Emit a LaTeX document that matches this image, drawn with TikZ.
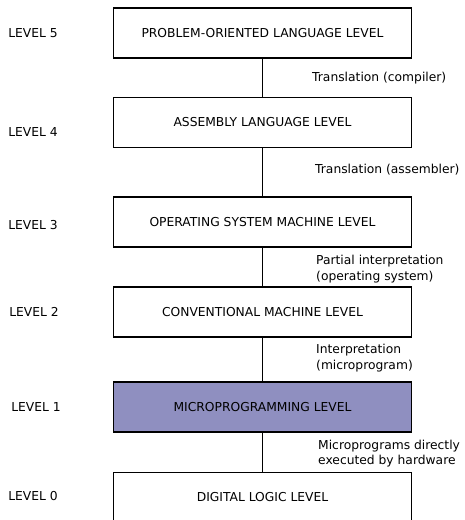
\documentclass[tikz,border=0pt]{standalone}
\usepackage{fontspec}
\setmainfont{DejaVu Sans}
\usetikzlibrary{positioning}
\definecolor{microBlue}{RGB}{143,143,192}

\begin{document}
\begin{tikzpicture}[
    x=1bp, y=-1bp,            % pixel-like coordinates, y going down
    node distance=40bp,
    font=\fontsize{12.3bp}{15.5bp}\selectfont
  ]

  %--- Styles for the level boxes and their labels ---
  \tikzset{
    levelBox/.style  ={rectangle, draw=black, fill=white, line width=1.5bp,
    minimum width=298bp, minimum height=50bp, inner sep=0pt},
    microBox/.style  ={levelBox, fill=microBlue},
    levelLabel/.style={inner sep=0pt, outer sep=0pt},
    transLabel/.style={anchor=west, align=left, inner sep=0pt},
    linkLine/.style  ={line width=1.5bp},
  }

  \useasboundingbox (0,0) rectangle (465,520);

  %------------------------------------------------------------------------------
  % 1) The level boxes (top to bottom)
  %------------------------------------------------------------------------------
  \node[levelBox] (box5) at (262.5,33) {PROBLEM-ORIENTED LANGUAGE LEVEL};
  \node[levelBox] (box4) [below=38bp of box5]   {ASSEMBLY LANGUAGE LEVEL};
  \node[levelBox] (box3) [below=48bp of box4]   {OPERATING SYSTEM MACHINE LEVEL};
  \node[levelBox] (box2) [below=38.5bp of box3] {CONVENTIONAL MACHINE LEVEL};
  \node[microBox] (box1) [below=43.5bp of box2] {MICROPROGRAMMING LEVEL};
  \node[levelBox] (box0) [below=39bp of box1]   {DIGITAL LOGIC LEVEL};

  %------------------------------------------------------------------------------
  % 2) Level numbers on the left
  %------------------------------------------------------------------------------
  \node[levelLabel] (lev5) [left=55bp of box5] {LEVEL 5};
  \node[levelLabel] (lev4) [left=55bp of box4, yshift=-10bp] {LEVEL 4};
  \node[levelLabel] (lev3) [left=55bp of box3, yshift=-3bp] {LEVEL 3};
  \node[levelLabel] (lev2) [left=54bp of box2] {LEVEL 2};
  \node[levelLabel] (lev1) [left=52bp of box1] {LEVEL 1};
  \node[levelLabel] (lev0) [left=55bp of box0, yshift=1bp] {LEVEL 0};

  %------------------------------------------------------------------------------
  % 3) How each level is carried out by the one below
  %------------------------------------------------------------------------------
  \node[transLabel] (trans5) at (312,78)    {Translation (compiler)};
  \node[transLabel] (trans4) at (315,170)   {Translation (assembler)};
  \node[transLabel] (trans3) at (316,269)   {Partial interpretation\\(operating system)};
  \node[transLabel] (trans2) at (316,358)   {Interpretation\\(microprogram)};
  \node[transLabel] (trans1) at (318,453.5) {Microprograms directly\\executed by hardware};

  %------------------------------------------------------------------------------
  % Links between neighbouring levels
  %------------------------------------------------------------------------------
  \draw[linkLine] (box5) -- (box4);
  \draw[linkLine] (box4) -- (box3);
  \draw[linkLine] (box3) -- (box2);
  \draw[linkLine] (box2) -- (box1);
  \draw[linkLine] (box1) -- (box0);

\end{tikzpicture}
\end{document}
